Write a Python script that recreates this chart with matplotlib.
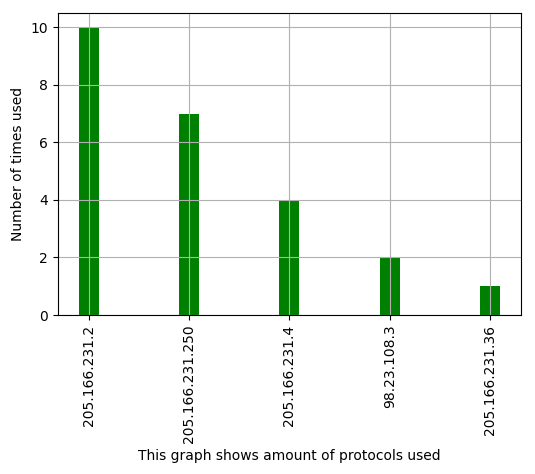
import numpy as np
from matplotlib import pyplot as plt

ips = ['205.166.231.2', '205.166.231.250', '205.166.231.4', '98.23.108.3', '205.166.231.36']
counts = [10, 7, 4, 2, 1]

fig = plt.figure(figsize=(5.35, 4.74), dpi=100)
ax = fig.add_axes([0.1075, 0.3354, 0.8665, 0.6372])
x = np.arange(len(ips))
ax.bar(x, counts, width=0.2, color='green')
ax.set_xticks(x)
ax.set_xticklabels(ips, rotation=90)
ax.grid(True)
ax.set_xlabel('This graph shows amount of protocols used')
ax.set_ylabel('Number of times used')
fig.savefig('out.png')
